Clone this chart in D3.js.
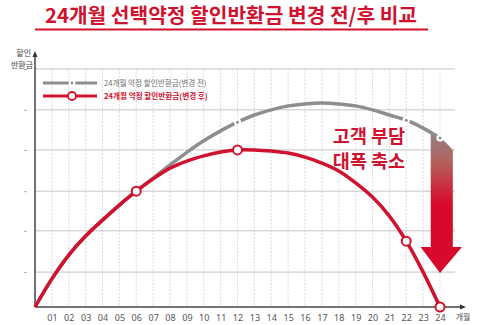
<!DOCTYPE html>
<html><head><meta charset="utf-8">
<script src="https://cdn.jsdelivr.net/npm/d3@7/dist/d3.min.js"></script>
<style>body{margin:0;background:#fff}svg{display:block;font-family:"Noto Sans CJK KR","Noto Sans",sans-serif}</style>
</head><body><svg id="c" width="500" height="325"></svg>
<script>
const months=[0,1,2,3,4,5,6,7,8,9,10,11,12,13,14,15,16,17,18,19,20,21,22,23,24];
const tickLabels=["01","02","03","04","05","06","07","08","09","10","11","12","13","14","15","16","17","18","19","20","21","22","23","24"];
const afterValues=[0,0.71,1.31,1.79,2.19,2.57,2.92,3.23,3.50,3.68,3.81,3.91,3.96,3.96,3.93,3.88,3.78,3.63,3.43,3.13,2.77,2.29,1.66,0.88,0];
const beforeValues=[0,0.71,1.31,1.79,2.19,2.57,2.92,3.25,3.58,3.90,4.19,4.44,4.66,4.84,4.97,5.07,5.12,5.14,5.12,5.07,4.97,4.84,4.71,4.51,4.26];
const afterMarkers=[6,12,22,24];
const beforeMarkers=[12,22,24];
const gridValues=[0.88,1.92,2.92,3.96,4.97,6];
const title="24개월 선택약정 할인반환금 변경 전/후 비교";
const legendLabels=["24개월 약정 할인반환금(변경 전)","24개월 약정 할인반환금(변경 후)"];
const annotation=["고객 부담","대폭 축소"];
const yLabel=["할인","반환금"];
const xUnit="개월";

const RED="#d0122f", GRAY="#8e8e8e";
const svg=d3.select("#c");
const x=d3.scaleLinear().domain([0,24]).range([35,440]);
const y=d3.scaleLinear().domain([0,6]).range([307,69]);
const xEnd=x(24.89);

// title
svg.append("text").attr("x",231).attr("y",23).attr("text-anchor","middle")
  .attr("font-size",20.3).attr("font-weight",700).attr("fill",RED).text(title);
svg.append("line").attr("x1",35).attr("x2",428).attr("y1",29.5).attr("y2",29.5)
  .attr("stroke",RED).attr("stroke-width",2);

// grid
const g=svg.append("g");
g.selectAll(".vg").data(months.slice(1)).join("line")
  .attr("x1",d=>x(d)).attr("x2",d=>x(d)).attr("y1",y(6)).attr("y2",y(0))
  .attr("stroke","#d0d0d0").attr("stroke-width",0.8).attr("stroke-dasharray","2,1.5");
g.selectAll(".hg").data(gridValues).join("line")
  .attr("x1",x(0)).attr("x2",xEnd).attr("y1",d=>y(d)).attr("y2",d=>y(d))
  .attr("stroke","#c4c4c4").attr("stroke-width",1);

// axes
const xa=svg.append("g").attr("transform",`translate(0,${y(0)})`)
  .call(d3.axisBottom(x).tickValues(months.slice(1)).tickFormat(d=>tickLabels[d-1]).tickSize(0).tickPadding(8));
xa.select(".domain").remove();
xa.selectAll("text").attr("font-size",9).attr("fill","#555").attr("font-family","'Noto Sans','Noto Sans CJK KR',sans-serif");
const ya=svg.append("g").attr("transform",`translate(${x(0)},0)`)
  .call(d3.axisLeft(y).tickValues(gridValues).tickFormat("").tickSize(0));
ya.select(".domain").remove();
ya.selectAll(".tick line").attr("x1",-10.5).attr("x2",-8.5).attr("stroke","#888").attr("stroke-width",1);

svg.append("line").attr("x1",x(0)).attr("x2",461).attr("y1",y(0)).attr("y2",y(0)).attr("stroke","#444").attr("stroke-width",1.5);
svg.append("path").attr("d",`M466,${y(0)} L460,${y(0)-2.5} L460,${y(0)+2.5}Z`).attr("fill","#333");
svg.append("line").attr("x1",x(0)).attr("x2",x(0)).attr("y1",y(0)).attr("y2",56).attr("stroke","#444").attr("stroke-width",1.5);
svg.append("path").attr("d",`M${x(0)},51 L${x(0)-2.5},57 L${x(0)+2.5},57Z`).attr("fill","#333");
svg.append("text").attr("x",31).attr("y",56).attr("text-anchor","end").attr("font-size",8).attr("fill","#444").text(yLabel[0]);
svg.append("text").attr("x",33).attr("y",67.5).attr("text-anchor","end").attr("font-size",8).attr("fill","#444").text(yLabel[1]);
svg.append("text").attr("x",463).attr("y",320).attr("text-anchor","middle").attr("font-size",8).attr("fill","#555").text(xUnit);

// arrow with gradient
const defs=svg.append("defs");
const grad=defs.append("linearGradient").attr("id","ag").attr("gradientUnits","userSpaceOnUse")
  .attr("x1",0).attr("x2",0).attr("y1",y(4.5)).attr("y2",y(2.6));
grad.append("stop").attr("offset",0).attr("stop-color","#8a8888");
grad.append("stop").attr("offset",0.45).attr("stop-color","#b5605c");
grad.append("stop").attr("offset",1).attr("stop-color","#d80a2c");
const ax0=x(23.45), ax1=x(24.76), hx0=x(22.85), hx1=x(25.3), shaftBottom=y(1.51), tip=y(0.86);
svg.append("path").attr("fill","url(#ag)")
  .attr("d",`M${ax0},${y(4.43)} Q${x(24)},${y(4.32)} ${ax1},${y(3.96)} L${ax1},${shaftBottom} L${hx1},${shaftBottom} L${x(24)},${tip} L${hx0},${shaftBottom} L${ax0},${shaftBottom}Z`);

// lines
const line=(vals)=>d3.line().x((d,i)=>x(months[i])).y(d=>y(d)).curve(d3.curveCatmullRom.alpha(0.5))(vals);
svg.append("path").attr("d",line(beforeValues)).attr("fill","none").attr("stroke",GRAY).attr("stroke-width",3.5);
svg.selectAll(".bm").data(beforeMarkers).join("circle").attr("cx",d=>x(d)).attr("cy",d=>y(beforeValues[d])).attr("r",3.6).attr("fill","#fff");
svg.selectAll(".bm2").data(beforeMarkers).join("circle").attr("cx",d=>x(d)).attr("cy",d=>y(beforeValues[d])).attr("r",1.5).attr("fill",GRAY);
svg.append("path").attr("d",line(afterValues)).attr("fill","none").attr("stroke",RED).attr("stroke-width",3.5);
svg.selectAll(".am").data(afterMarkers).join("circle").attr("cx",d=>x(d)).attr("cy",d=>y(afterValues[d])).attr("r",4.5)
  .attr("fill","#fff").attr("stroke",RED).attr("stroke-width",2);

// legend
svg.append("line").attr("x1",43).attr("x2",97).attr("y1",83).attr("y2",83).attr("stroke",GRAY).attr("stroke-width",3);
svg.append("circle").attr("cx",72).attr("cy",83).attr("r",3.4).attr("fill","#fff");
svg.append("circle").attr("cx",72).attr("cy",83).attr("r",1.4).attr("fill",GRAY);
svg.append("text").attr("x",104).attr("y",86).attr("font-size",7.6).attr("fill","#6f6f6f").text(legendLabels[0]);
svg.append("line").attr("x1",43).attr("x2",97).attr("y1",96).attr("y2",96).attr("stroke",RED).attr("stroke-width",3);
svg.append("circle").attr("cx",72).attr("cy",96).attr("r",4).attr("fill","#fff").attr("stroke",RED).attr("stroke-width",1.8);
svg.append("text").attr("x",104).attr("y",99).attr("font-size",7.6).attr("font-weight",700).attr("fill",RED).text(legendLabels[1]);

// annotation
annotation.forEach((t,i)=>svg.append("text").attr("x",369).attr("y",143+i*24.5).attr("text-anchor","middle")
  .attr("font-size",18.5).attr("font-weight",700).attr("fill",RED).text(t));
</script></body></html>
